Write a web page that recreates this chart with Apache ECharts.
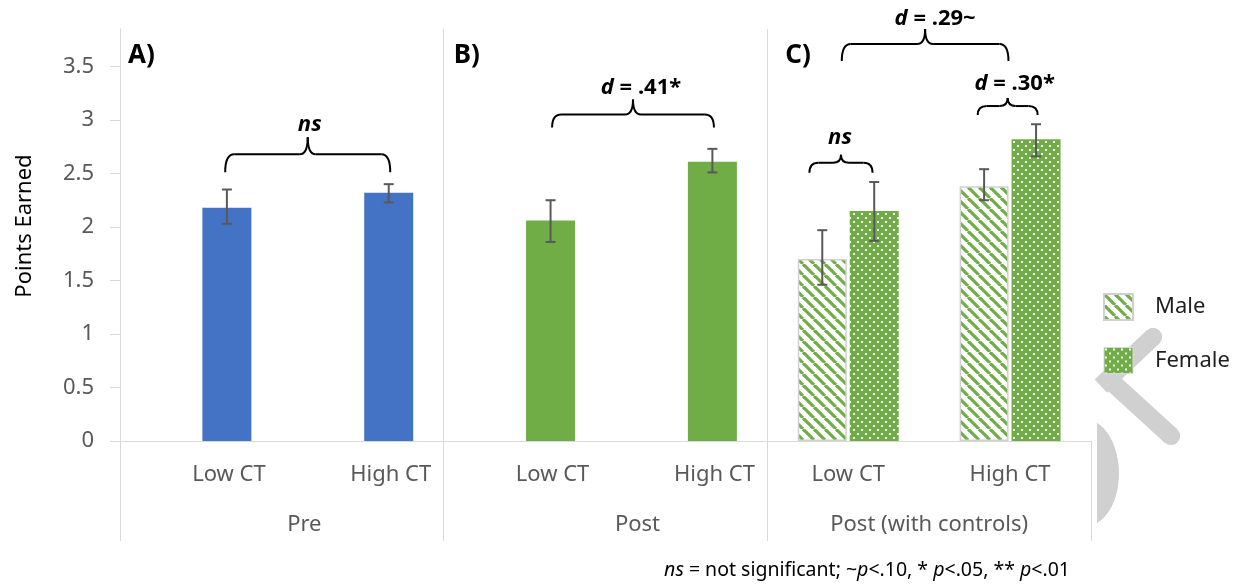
<!DOCTYPE html>
<html><head><meta charset="utf-8">
<script src="https://cdn.jsdelivr.net/npm/echarts@6/dist/echarts.min.js"></script>
<style>html,body{margin:0;padding:0;background:#fff}#c{width:1239px;height:584px}</style>
</head><body><div id="c"></div><script>
// ---------------- data ----------------
const innerCategories = ['Low CT', 'High CT', 'Low CT', 'High CT', 'Low CT', 'High CT'];
const groupCategories = ['Pre', 'Post', 'Post (with controls)'];
const panelLabels = ['A)', 'B)', 'C)'];
const seriesNames = ['Male', 'Female'];
// Male bars exist only in panel C
const maleValues = [null, null, null, null, 1.70, 2.38];
const maleErrLow = [null, null, null, null, 1.46, 2.25];
const maleErrHigh = [null, null, null, null, 1.97, 2.54];
// Panel A (Pre), Panel B (Post), Panel C female
const mainValues = [2.18, 2.32, 2.06, 2.61, 2.15, 2.82];
const mainErrLow = [2.03, 2.23, 1.86, 2.51, 1.87, 2.66];
const mainErrHigh = [2.35, 2.40, 2.25, 2.73, 2.42, 2.96];
const yTicks = [0, 0.5, 1, 1.5, 2, 2.5, 3, 3.5];
// significance brackets: from/to in category units, level in y units
const bracketFrom = [0.15, 2.17, 3.96, 4.80, 3.76];
const bracketTo = [1.17, 3.17, 4.99, 5.17, 4.15];
const bracketLevel = [2.68, 3.05, 3.71, 3.13, 2.60];
const bracketLabels = ['ns', 'd = .41*', 'd = .29~', 'd = .30*', 'ns'];
const footnote = '{i|ns} = not significant; ~{i|p}<.10, * {i|p}<.05, ** {i|p}<.01';

// ---------------- styles ----------------
const FONT = 'Noto Sans';
const BLUE = '#4472C4', GREEN = '#70AD47', AXIS = '#d9d9d9', LABEL = '#595959', WM = '#d0d0d0';
const BAR_W = 49, BAR_GAP = 0.06;
const panelOfCategory = [0, 0, 1, 1, 2, 2];
const bracketStyle = [
  {drop: 18, rise: 17, gap: 29, dx: 2},
  {drop: 13, rise: 15, gap: 27, dx: 8},
  {drop: 17, rise: 15, gap: 25, dx: 10},
  {drop: 9, rise: 8, gap: 22, dx: 7},
  {drop: 10, rise: 8, gap: 25, dx: -1}
];
const panelTitleDx = [8, 10, 18];

function stripeTile() {
  const s = 11, c = document.createElement('canvas');
  c.width = s; c.height = s;
  const g = c.getContext('2d');
  g.fillStyle = '#fff'; g.fillRect(0, 0, s, s);
  g.strokeStyle = GREEN; g.lineWidth = 3.2;
  for (const o of [-s, 0, s]) { g.beginPath(); g.moveTo(o, 0); g.lineTo(o + s, s); g.stroke(); }
  return c;
}
function dotTile() {
  const c = document.createElement('canvas');
  c.width = 8; c.height = 8;
  const g = c.getContext('2d');
  g.fillStyle = GREEN; g.fillRect(0, 0, 8, 8);
  g.fillStyle = '#fff'; g.fillRect(1, 1, 2, 2); g.fillRect(5, 5, 2, 2);
  return c;
}
const stripes = {image: stripeTile(), repeat: 'repeat'};
const dots = {image: dotTile(), repeat: 'repeat'};
const panelFill = [BLUE, GREEN, dots];

function errorSeries(low, high, side) {
  const data = [];
  low.forEach((l, i) => { if (l != null) data.push([i, l, high[i]]); });
  return {
    type: 'custom', silent: true, z: 5, data: data, encode: {x: 0, y: [1, 2]},
    renderItem: function (params, api) {
      const cat = api.value(0);
      const lo = api.coord([cat, api.value(1)]);
      const hi = api.coord([cat, api.value(2)]);
      const x = lo[0] + side * BAR_W * (1 + BAR_GAP) / 2;
      const st = {stroke: '#595959', lineWidth: 2};
      return {type: 'group', children: [
        {type: 'line', shape: {x1: x, y1: lo[1], x2: x, y2: hi[1]}, style: st},
        {type: 'line', shape: {x1: x - 5, y1: lo[1], x2: x + 5, y2: lo[1]}, style: st},
        {type: 'line', shape: {x1: x - 5, y1: hi[1], x2: x + 5, y2: hi[1]}, style: st}
      ]};
    }
  };
}

// watermark fragment geometry (decoration, pixel space)
function bandPts(ax, ay, bx, by, w) {
  const dx = bx - ax, dy = by - ay, L = Math.hypot(dx, dy);
  const nx = -dy / L * w / 2, ny = dx / L * w / 2;
  return [[ax + nx, ay + ny], [bx + nx, by + ny], [bx - nx, by - ny], [ax - nx, ay - ny]];
}
const dPts = [];
for (let k = 0; k <= 24; k++) {
  const t = k / 24, u = 1 - t;
  dPts.push([u * u * u * 1097 + 3 * u * u * t * 1126 + 3 * u * t * t * 1126 + t * t * t * 1097,
             u * u * u * 423 + 3 * u * u * t * 442 + 3 * u * t * t * 505 + t * t * t * 523]);
}
function watermarkShapes(z) {
  return [
    {type: 'polygon', z: z, silent: true, style: {fill: WM}, shape: {points: bandPts(1153, 337, 1101, 386, 18)}},
    {type: 'circle', z: z, silent: true, style: {fill: WM}, shape: {cx: 1153, cy: 337, r: 9}},
    {type: 'polygon', z: z, silent: true, style: {fill: WM}, shape: {points: bandPts(1102, 373, 1171, 436, 18)}},
    {type: 'circle', z: z, silent: true, style: {fill: WM}, shape: {cx: 1171, cy: 436, r: 9}},
    {type: 'polygon', z: z, silent: true, style: {fill: WM}, shape: {points: dPts}}
  ];
}

const labelRich = {
  s: {padding: [0, 0, 0, 56], fontSize: 22, color: LABEL, fontFamily: FONT},
  n: {fontSize: 22, color: LABEL, fontFamily: FONT}
};
const groupPad = [45, 64, 0];

const chart = echarts.init(document.getElementById('c'));
const option = {
  animation: false,
  textStyle: {fontFamily: FONT},
  grid: {left: 120, right: 148, top: 29, bottom: 143, containLabel: false},
  legend: {
    orient: 'vertical', left: 1098, top: 288, itemWidth: 29, itemHeight: 26, itemGap: 26,
    icon: 'rect', selectedMode: false, z: 50,
    data: [{name: seriesNames[0]}, {name: seriesNames[1], itemStyle: {borderColor: '#d9d9d9', borderWidth: 1}}],
    textStyle: {fontSize: 22, color: '#1f1f1f', fontFamily: FONT, padding: [0, 0, 0, 17]}
  },
  xAxis: [{
    type: 'category', data: innerCategories,
    axisLine: {lineStyle: {color: AXIS, width: 1}},
    axisTick: {show: true, length: 100, interval: (i) => i % 2 === 0, lineStyle: {color: AXIS}},
    splitLine: {show: true, interval: (i) => i % 2 === 0, showMaxLine: false, lineStyle: {color: AXIS}},
    axisLabel: {
      interval: 0, margin: 23, fontSize: 22, color: LABEL,
      formatter: (v, i) => (i < 4 ? '{s|' + v + '}' : '{n|' + v + '}'), rich: labelRich
    }
  }, {
    type: 'category', data: groupCategories, position: 'bottom',
    axisLine: {show: false}, axisTick: {show: false}, splitLine: {show: false},
    axisLabel: {
      interval: 0, margin: 73, fontSize: 22, color: LABEL,
      formatter: (v, i) => '{g' + i + '|' + v + '}',
      rich: {
        g0: {padding: [0, 0, 0, groupPad[0]], fontSize: 22, color: LABEL, fontFamily: FONT},
        g1: {padding: [0, 0, 0, groupPad[1]], fontSize: 22, color: LABEL, fontFamily: FONT},
        g2: {padding: [0, 0, 0, groupPad[2]], fontSize: 22, color: LABEL, fontFamily: FONT}
      }
    }
  }],
  yAxis: {
    type: 'value', min: 0, max: 3.85, interval: 0.5,
    name: 'Points Earned', nameLocation: 'middle', nameGap: 84,
    nameTextStyle: {fontSize: 22, color: '#000', fontFamily: FONT, padding: [0, 0, 0, 18]},
    axisLine: {show: true, lineStyle: {color: AXIS}},
    axisTick: {show: true, length: 10, customValues: yTicks, lineStyle: {color: AXIS}},
    axisLabel: {customValues: yTicks, margin: 26, fontSize: 22, color: LABEL},
    splitLine: {show: false}
  },
  series: [
    {name: seriesNames[0], type: 'bar', barWidth: BAR_W, barGap: (BAR_GAP * 100) + '%', data: maleValues,
     itemStyle: {color: stripes, borderColor: '#d0d0d0', borderWidth: 1.5}},
    {name: seriesNames[1], type: 'bar', barWidth: BAR_W, barGap: (BAR_GAP * 100) + '%',
     data: mainValues.map((v, i) => ({value: v, itemStyle: {color: panelFill[panelOfCategory[i]]}})),
     itemStyle: {color: dots}},
    errorSeries(maleErrLow, maleErrHigh, -1),
    errorSeries(mainErrLow, mainErrHigh, 1),
    {type: 'custom', coordinateSystem: 'none', silent: true, z: 1, data: [[0]],
     renderItem: () => ({type: 'group', children: watermarkShapes(0)})}
  ]
};
chart.setOption(option);

// ---------------- annotations (positioned through the chart's scales) ----------------
const px = (cat, val) => chart.convertToPixel({gridIndex: 0}, [cat, val]);
const band = px(1, 0)[0] - px(0, 0)[0];
const xAt = (u) => { const f = Math.floor(u); return px(f, 0)[0] + (u - f) * band; };
const yAt = (v) => px(0, v)[1];

function richLabel(t) {
  if (t === 'ns') return '{i|ns}';
  if (t.charAt(0) === 'd') return '{i|d}{b|' + t.slice(1) + '}';
  return '{b|' + t + '}';
}
const graphics = [];
function quad(xa, ya, cx, cy, xb, yb) {
  return {type: 'bezierCurve', shape: {x1: xa, y1: ya, cpx1: cx, cpy1: cy, x2: xb, y2: yb}, style: {stroke: '#000', lineWidth: 2, fill: null}, z: 20, silent: true};
}
function seg(xa, ya, xb, yb) {
  return {type: 'line', shape: {x1: xa, y1: ya, x2: xb, y2: yb}, style: {stroke: '#000', lineWidth: 2}, z: 20, silent: true};
}
bracketLabels.forEach((t, k) => {
  const s = bracketStyle[k];
  const x1 = xAt(bracketFrom[k]), x2 = xAt(bracketTo[k]), y = yAt(bracketLevel[k]);
  const xm = (x1 + x2) / 2, r = Math.min(9, (x2 - x1) / 6), r2 = Math.min(8, (x2 - x1) / 7);
  graphics.push(quad(x1, y + s.drop, x1, y, x1 + r, y));
  graphics.push(seg(x1 + r, y, xm - r2, y));
  graphics.push(quad(xm - r2, y, xm, y, xm, y - s.rise));
  graphics.push(quad(xm, y - s.rise, xm, y, xm + r2, y));
  graphics.push(seg(xm + r2, y, x2 - r, y));
  graphics.push(quad(x2 - r, y, x2, y, x2, y + s.drop));
  graphics.push({type: 'text', x: xm + s.dx, y: y - s.gap, z: 20, silent: true, style: {
    text: richLabel(t), align: 'center', verticalAlign: 'middle',
    rich: {
      i: {fontFamily: FONT, fontSize: 22, fontWeight: 'bold', fontStyle: 'italic', fill: '#000'},
      b: {fontFamily: FONT, fontSize: 22, fontWeight: 'bold', fill: '#000'}
    }
  }});
});
panelLabels.forEach((t, p) => {
  graphics.push({type: 'text', x: xAt(2 * p - 0.5) + panelTitleDx[p], y: 56, z: 20, silent: true, style: {
    text: t, align: 'left', verticalAlign: 'middle', fontFamily: FONT, fontSize: 26, fontWeight: 'bold', fill: '#000'
  }});
});
graphics.push({type: 'text', x: 1070, y: 570, z: 20, silent: true, style: {
  text: footnote, align: 'right', verticalAlign: 'middle', fontFamily: FONT, fontSize: 19.5, fill: '#000',
  rich: {i: {fontFamily: FONT, fontSize: 19.5, fontStyle: 'italic', fill: '#000'}}
}});
watermarkShapes(1).forEach((g) => graphics.push(g));
chart.setOption({graphic: graphics});
</script></body></html>
